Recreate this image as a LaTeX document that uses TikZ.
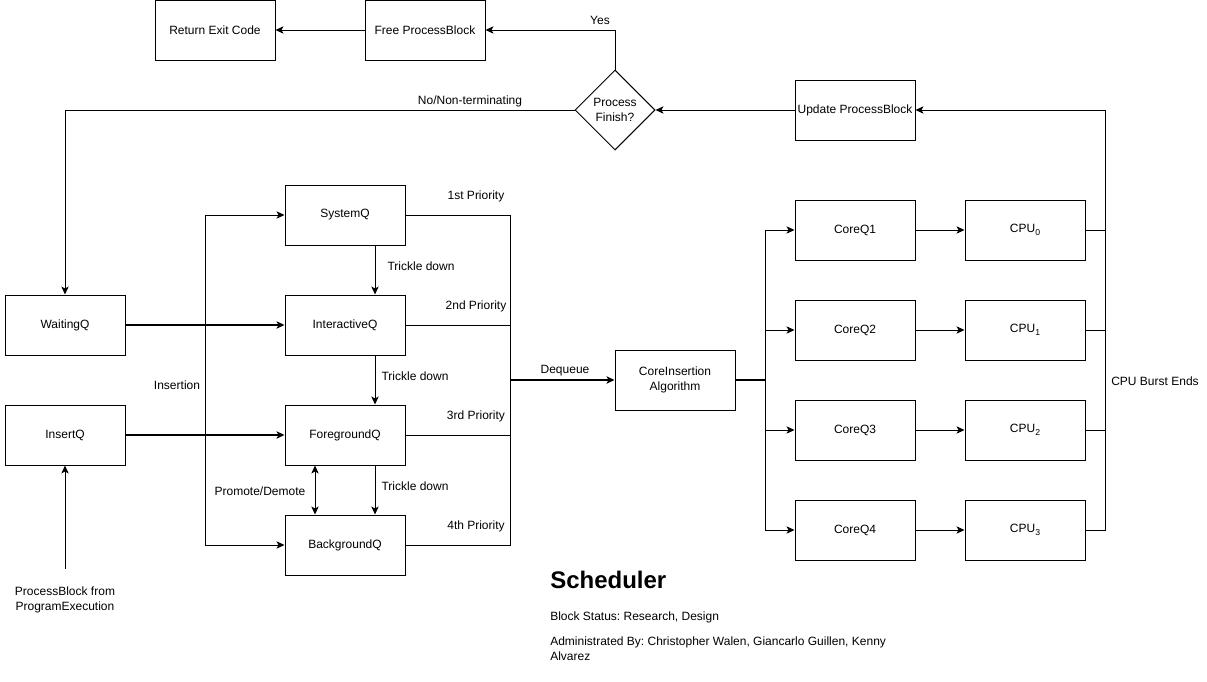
\documentclass[tikz,border=0pt]{standalone}
\usepackage{fontspec}
\setmainfont{Liberation Sans}
\usetikzlibrary{shapes.geometric,arrows.meta}
\frenchspacing

\begin{document}
\begin{tikzpicture}[x=0.75pt, y=-0.75pt, font=\fontsize{9}{11.25}\selectfont,
	box/.style={draw, line width=0.75pt, minimum width=90pt, minimum height=45pt, inner sep=0pt, align=center},
	arr/.style={line width=0.75pt, -{Stealth[length=6pt,width=5.5pt,inset=1.5pt]}},
	wire/.style={line width=0.75pt},
	lbl/.style={inner sep=0pt, align=center}]
	\useasboundingbox (0,0) rectangle (1207,682);

	% exit path
	\node[box] (exitcode) at (215,30) {Return Exit Code};
	\node[box] (freepb) at (425,30) {Free ProcessBlock};
	\node[draw, diamond, line width=0.75pt, minimum width=60pt, minimum height=60pt, aspect=1, inner sep=0pt, align=center] (finish) at (615,110) {Process\\Finish?};
	\node[box] (update) at (855,110) {Update ProcessBlock};

	% input queues
	\node[box] (waitq) at (65,325) {WaitingQ};
	\node[box] (insq) at (65,435) {InsertQ};
	\node[lbl] (pbsrc) at (65,600) {ProcessBlock from\\ProgramExecution};

	% priority queues
	\node[box] (sysq) at (345,215) {SystemQ};
	\node[box] (interq) at (345,325) {InteractiveQ};
	\node[box] (foreq) at (345,435) {ForegroundQ};
	\node[box] (backq) at (345,545) {BackgroundQ};

	% cores
	\node[box] (coreins) at (675,380) {CoreInsertion\\Algorithm};
	\node[box] (coreq1) at (855,230) {CoreQ1};
	\node[box] (coreq2) at (855,330) {CoreQ2};
	\node[box] (coreq3) at (855,430) {CoreQ3};
	\node[box] (coreq4) at (855,530) {CoreQ4};
	\node[box] (cpu0) at (1025,230) {CPU\raisebox{-2pt}{\fontsize{6.5}{7}\selectfont 0}};
	\node[box] (cpu1) at (1025,330) {CPU\raisebox{-2pt}{\fontsize{6.5}{7}\selectfont 1}};
	\node[box] (cpu2) at (1025,430) {CPU\raisebox{-2pt}{\fontsize{6.5}{7}\selectfont 2}};
	\node[box] (cpu3) at (1025,530) {CPU\raisebox{-2pt}{\fontsize{6.5}{7}\selectfont 3}};

	\coordinate (ins) at (205,380);
	\coordinate (merge) at (510,380);
	\coordinate (split) at (765,380);
	\coordinate (burst) at (1105,110);

	% finish / loop back
	\draw[arr] (update) -- (finish);
	\draw[arr] (finish.north) |- (freepb.east);
	\draw[arr] (freepb) -- (exitcode);
	\draw[arr] (finish.west) -| (waitq.north);
	\node[lbl] at (600,20) {Yes};
	\node[lbl] at (470,101) {No/Non-terminating};

	% into the queues
	\draw[arr, line width=1.2pt] (waitq) -- (interq);
	\draw[arr, line width=1.2pt] (insq) -- (foreq);
	\draw[arr] (pbsrc.north) ++(0,-18) -- (insq.south);
	\draw[arr] (ins) |- (sysq.west);
	\draw[arr] (ins) |- (backq.west);
	\node[lbl] at (177,385) {Insertion};

	% trickle down
	\draw[arr] (sysq.south -| 375,0) -- (interq.north -| 375,0);
	\draw[arr] (interq.south -| 375,0) -- (foreq.north -| 375,0);
	\draw[arr] (foreq.south -| 375,0) -- (backq.north -| 375,0);
	\draw[line width=0.75pt, {Stealth[length=6pt,width=5.5pt,inset=1.5pt]}-{Stealth[length=6pt,width=5.5pt,inset=1.5pt]}] (foreq.south -| 315,0) -- (backq.north -| 315,0);
	\node[lbl] at (421,266) {Trickle down};
	\node[lbl] at (415,376) {Trickle down};
	\node[lbl] at (415,486) {Trickle down};
	\node[lbl] at (260,491) {Promote/Demote};

	% priorities
	\draw[wire] (sysq.east) -| (merge);
	\draw[wire] (interq.east) -| (merge);
	\draw[wire] (foreq.east) -| (merge);
	\draw[wire] (backq.east) -| (merge);
	\node[lbl] at (476,196) {1st Priority};
	\node[lbl] at (476,306) {2nd Priority};
	\node[lbl] at (476,416) {3rd Priority};
	\node[lbl] at (476,526) {4th Priority};
	\draw[arr, line width=1.2pt] (merge) -- (coreins);
	\node[lbl] at (565,371) {Dequeue};

	% core dispatch
	\draw[wire, line width=1.2pt] (coreins) -- (split);
	\draw[arr] (split) |- (coreq1.west);
	\draw[arr] (split) |- (coreq2.west);
	\draw[arr] (split) |- (coreq3.west);
	\draw[arr] (split) |- (coreq4.west);
	\draw[arr] (coreq1) -- (cpu0);
	\draw[arr] (coreq2) -- (cpu1);
	\draw[arr] (coreq3) -- (cpu2);
	\draw[arr] (coreq4) -- (cpu3);

	% burst ends
	\draw[wire] (cpu0.east) -- (cpu0.east -| burst);
	\draw[wire] (cpu1.east) -- (cpu1.east -| burst);
	\draw[wire] (cpu2.east) -- (cpu2.east -| burst);
	\draw[arr] (cpu3.east) -| (burst) -- (update.east);
	\node[lbl] at (1155,381) {CPU Burst Ends};

	% caption
	\node[lbl, anchor=west, font=\fontsize{18}{20}\selectfont\bfseries] at (550,580) {Scheduler};
	\node[lbl, anchor=west] at (550,617) {Block Status: Research, Design};
	\node[lbl, anchor=north west, align=left] at (550,637) {Administrated By: Christopher Walen, Giancarlo Guillen, Kenny\\Alvarez};
\end{tikzpicture}
\end{document}
